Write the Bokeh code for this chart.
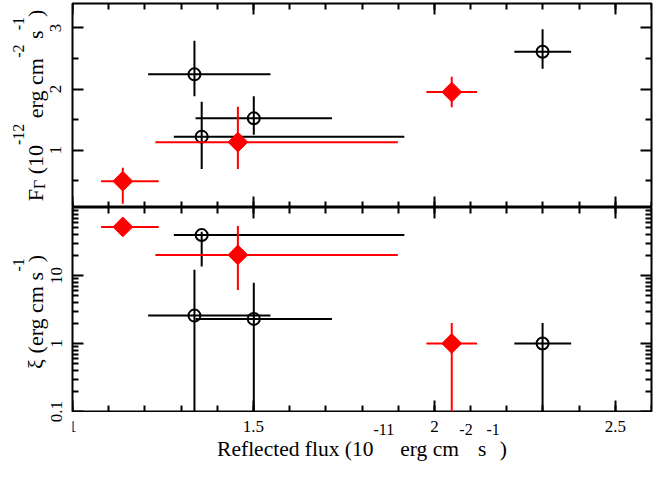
import math
from bokeh.plotting import figure
from bokeh.layouts import column, row
from bokeh.models import (Range1d, LinearAxis, LogAxis, FixedTicker, LogScale, LinearScale,
                          CustomJSTickFormatter, ColumnDataSource, Grid)
from bokeh.core.properties import value
from bokeh.embed import file_html
from bokeh.resources import INLINE

# ---------------- data ----------------
blk_flux = [1.337, 1.357, 1.501, 2.299]
blk_flux_lo = [1.209, 1.280, 1.340, 2.221]
blk_flux_hi = [1.547, 1.917, 1.717, 2.378]
blk_fg = [2.24, 1.22, 1.52, 2.61]
blk_fg_lo = [1.88, 0.69, 1.25, 2.33]
blk_fg_hi = [2.79, 1.79, 1.88, 2.98]
blk_xi = [2.57, 39.3, 2.30, 1.0]
blk_xi_lo = [0.01, 13.6, 0.01, 0.01]
blk_xi_hi = [12.2, 44.0, 7.8, 2.0]

red_flux = [1.139, 1.457, 2.048]
red_flux_lo = [1.079, 1.229, 1.978]
red_flux_hi = [1.238, 1.899, 2.118]
red_fg = [0.49, 1.13, 1.95]
red_fg_lo = [0.12, 0.69, 1.70]
red_fg_hi = [0.71, 1.71, 2.20]
red_xi = [51.8, 20.1, 1.0]
red_xi_lo = [51.8, 6.1, 0.01]
red_xi_hi = [51.8, 53.6, 2.0]

x_major = [1.0, 1.5, 2.0, 2.5]
x_minor = [round(1.0 + 0.1 * i, 2) for i in range(17)]
fg_major = [1, 2, 3]
fg_minor = [0.5, 1.5, 2.5]
xi_major = [0.1, 1, 10]
xi_minor = [m * 10.0 ** e for e in (-1, 0, 1) for m in range(2, 10)]

# ---------------- layout constants ----------------
X0, X1 = 1.0, 2.6
FY0, FY1 = 0.06, 3.4
XI0, XI1 = 0.1, 100.0
CW, CH = 654, 461
LW = 66                 # left strip: rotated titles and y tick labels
MW = CW - LW
FL = 72                 # frame left (canvas px)
BL, BR = FL - LW, 3
TOPB = 3
H1, H2 = 204, 204
TOP_H = TOPB + H1
BOT_H = H2 + 1
XLH = CH - TOP_H - BOT_H
FW = MW - BL - BR
SERIF = "Liberation Serif"
BLACK = "#000000"
RED = "#ff0000"
TXT_FIX = 7.5           # renderer draws text this much below the requested baseline
TICK_FONT = "17px"


def style_axis(ax, labels=True, ticks=True):
    ax.major_tick_in = 11
    ax.major_tick_out = 0
    ax.minor_tick_in = 6
    ax.minor_tick_out = 0
    ax.major_tick_line_width = 2
    ax.minor_tick_line_width = 2
    ax.major_tick_line_color = BLACK if ticks else None
    ax.minor_tick_line_color = BLACK if ticks else None
    ax.axis_line_color = None
    ax.major_label_text_font = SERIF
    ax.major_label_text_font_size = TICK_FONT
    ax.major_label_text_color = BLACK
    ax.major_label_standoff = 3
    if not labels:
        ax.formatter = CustomJSTickFormatter(code="return ''")


def base_fig(width, height, x_range, y_range, ytype, bl, br, bt, bb, outline=True):
    p = figure(width=width, height=height, x_range=x_range, y_range=y_range,
               y_axis_type=ytype, x_axis_location=None, y_axis_location=None,
               output_backend="svg", toolbar_location=None,
               min_border_left=bl, min_border_right=br,
               min_border_top=bt, min_border_bottom=bb)
    for r in list(p.center):
        if isinstance(r, Grid):
            r.visible = False
    p.outline_line_color = BLACK if outline else None
    p.outline_line_width = 2
    p.background_fill_color = "white"
    p.border_fill_color = "white"
    return p


xr = Range1d(X0, X1)

# ---------------- top panel ----------------
top = base_fig(MW, TOP_H, xr, Range1d(FY0, FY1), "linear", BL, BR, TOPB, 0)
for loc, fl in (("left", X0), ("right", X1)):
    ax = LinearAxis(ticker=FixedTicker(ticks=fg_major, minor_ticks=fg_minor), fixed_location=fl)
    style_axis(ax, False)
    top.add_layout(ax, loc)
for loc, fl in (("above", FY1), ("below", FY0)):
    ax = LinearAxis(ticker=FixedTicker(ticks=x_major, minor_ticks=x_minor), fixed_location=fl)
    style_axis(ax, False)
    top.add_layout(ax, loc)

# ---------------- bottom panel ----------------
bot = base_fig(MW, BOT_H, xr, Range1d(XI0, XI1), "log", BL, BR, 0, 1)
for loc, fl in (("left", X0), ("right", X1)):
    ax = LogAxis(ticker=FixedTicker(ticks=xi_major, minor_ticks=xi_minor), fixed_location=fl)
    style_axis(ax, False)
    bot.add_layout(ax, loc)
for loc, fl in (("above", XI1), ("below", XI0)):
    ax = LinearAxis(ticker=FixedTicker(ticks=x_major, minor_ticks=x_minor), fixed_location=fl)
    style_axis(ax, False)
    bot.add_layout(ax, loc)

# ---------------- data marks ----------------
def draw(p, x, xlo, xhi, y, ylo, yhi, color, kind):
    src = ColumnDataSource(dict(x=x, xlo=xlo, xhi=xhi, y=y, ylo=ylo, yhi=yhi))
    p.segment(x0="xlo", x1="xhi", y0="y", y1="y", source=src, line_color=color, line_width=2)
    p.segment(x0="x", x1="x", y0="ylo", y1="yhi", source=src, line_color=color, line_width=2)
    if kind == "circle":
        p.scatter("x", "y", source=src, marker="circle", size=12, fill_color=None,
                  line_color=color, line_width=2)
    else:
        p.scatter("x", "y", source=src, marker="square", size=14, angle=math.pi / 4,
                  fill_color=color, line_color=color, line_width=1)


draw(top, blk_flux, blk_flux_lo, blk_flux_hi, blk_fg, blk_fg_lo, blk_fg_hi, BLACK, "circle")
draw(top, red_flux, red_flux_lo, red_flux_hi, red_fg, red_fg_lo, red_fg_hi, RED, "diamond")
draw(bot, blk_flux, blk_flux_lo, blk_flux_hi, blk_xi, blk_xi_lo, blk_xi_hi, BLACK, "circle")
draw(bot, red_flux, red_flux_lo, red_flux_hi, red_xi, red_xi_lo, red_xi_hi, RED, "diamond")

# ---------------- strip below: x tick labels + x title (y = px from strip bottom) ----------------
xlab = base_fig(MW, XLH, xr, Range1d(0, XLH), "linear", BL, BR, 0, 0, outline=False)
ax = LinearAxis(ticker=FixedTicker(ticks=x_major), fixed_location=XLH)
style_axis(ax, True, False)
ax.major_label_standoff = 8
xlab.add_layout(ax, "below")

# ---------------- left strip: y tick labels + rotated titles ----------------
lab = base_fig(LW, CH, Range1d(0, LW), Range1d(0, CH), "linear", 0, 0, 0, 0, outline=False)
ppu1 = H1 / (FY1 - FY0)                 # px per unit, top panel
fg_frame_bottom = TOPB + H1             # canvas y of FY0
ppd = H2 / 3.0                          # px per decade, bottom panel
xi_frame_bottom = TOP_H + H2            # canvas y of XI0
lab.extra_y_ranges = {
    "fg": Range1d(FY0 - (CH - fg_frame_bottom) / ppu1, FY1 + TOPB / ppu1),
    "xi": Range1d(XI0 * 10 ** (-(CH - xi_frame_bottom) / ppd), XI1 * 10 ** (TOP_H / ppd)),
}
lab.extra_y_scales = {"fg": LinearScale(), "xi": LogScale()}
TICK_LOC = LW           # y tick labels hang left of the strip edge
ax = LinearAxis(y_range_name="fg", ticker=FixedTicker(ticks=fg_major), fixed_location=TICK_LOC)
style_axis(ax, True, False)
ax.major_label_standoff = 5
ax.major_label_orientation = "vertical"
lab.add_layout(ax, "left")
ax = LogAxis(y_range_name="xi", ticker=FixedTicker(ticks=xi_major), fixed_location=TICK_LOC)
style_axis(ax, True, False)
ax.formatter = CustomJSTickFormatter(code="return tick.toString()")
ax.major_label_standoff = 5
ax.major_label_orientation = "vertical"
lab.add_layout(ax, "left")

# ---------------- titles built from pieces ----------------
WID = {' ': 250, '(': 333, ')': 333, '-': 333, 'R': 667, 'e': 444, 'f': 333, 'l': 278,
       'c': 444, 't': 278, 'd': 500, 'u': 500, 'x': 500, 'r': 333, 'g': 500, 'm': 778,
       's': 389, 'F': 556, '\u0393': 578, '\u03be': 460}


def adv(s, size):
    return sum(WID.get(c, 500) for c in s) / 1000.0 * size


def layout(pieces):
    pos = 0.0
    out = []
    for text, size, shift, kern in pieces:
        pos += kern
        stripped = text.lstrip(' ')
        pos += adv(text[:len(text) - len(stripped)], size)
        out.append((stripped, size, shift, pos))
        pos += adv(stripped, size)
    return out, pos


M, S = 22, 16
top_title = [("F", M, 0, 0), ("\u0393", S, -4, 0), (" (10", M, 0, 0), ("-12", S, 17, 0),
             (" erg cm", M, 0, 0), ("-2", S, 17, 0), (" s", M, 0, 0), ("-1", S, 17, 0),
             (")", M, 0, 0)]
bot_title = [("\u03be", M, 0, 0), (" (erg cm s", M, 0, 0), ("-1", S, 17, 0), (")", M, 0, -4)]
MX = 21.5
x_title = [("Reflected flux (10", MX, 0, 0), ("-11", S, 20, 0), (" erg cm", MX, 0, 0),
           ("-2", S, 20, 0), (" s", MX, 0, 0), ("-1", S, 20, 0), (")", MX, 0, 0)]

BASE_X = 42   # baseline of the rotated titles, canvas px

rx, ry, rt, rs = [], [], [], []
for pieces, center in ((top_title, TOPB + H1 / 2), (bot_title, TOP_H + H2 / 2 + 2.5)):
    items, L = layout(pieces)
    start = CH - (center + L / 2)
    for text, size, shift, pos in items:
        rx.append(BASE_X - shift - TXT_FIX)
        ry.append(start + pos)
        rt.append(text)
        rs.append(f"{size}px")
lab.text(x="x", y="y", text="text", source=ColumnDataSource(dict(x=rx, y=ry, text=rt, size=rs)),
         angle=math.pi / 2, text_font=value(SERIF), text_font_size="size",
         text_color=BLACK, text_align="left", text_baseline="alphabetic")

items, L = layout(x_title)
ppx = FW / (X1 - X0)
start = FW / 2 - L / 2
XB = 44       # x-title baseline below the top of the strip
hx, hy, ht, hs = [], [], [], []
for text, size, shift, pos in items:
    hx.append(X0 + (start + pos) / ppx)
    hy.append(XLH - (XB - shift) + TXT_FIX)
    ht.append(text)
    hs.append(f"{size}px")
xlab.text(x="x", y="y", text="text", source=ColumnDataSource(dict(x=hx, y=hy, text=ht, size=hs)),
          text_font=value(SERIF), text_font_size="size",
          text_color=BLACK, text_align="left", text_baseline="alphabetic")

lay = row(lab, column(top, bot, xlab))
open("out.html", "w").write(file_html(lay, INLINE))
